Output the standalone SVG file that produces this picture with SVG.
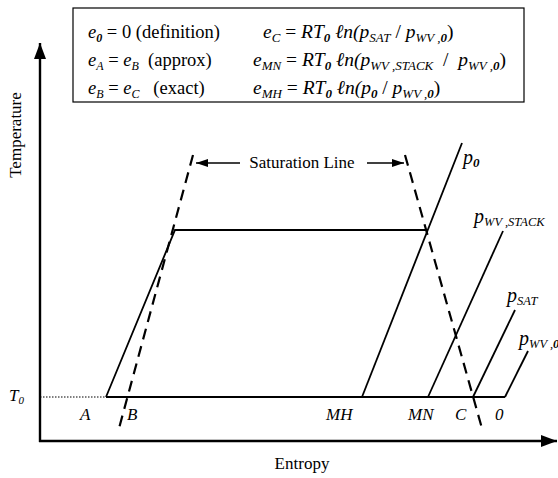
<svg xmlns="http://www.w3.org/2000/svg" width="558" height="478" viewBox="0 0 558 478">
<style>
text{font-family:"Liberation Serif","Times New Roman","DejaVu Serif",serif;fill:#000}
#legend text{white-space:pre}
.i{font-style:italic}
.b{font-weight:bold;font-style:italic}
.ln{stroke:#000;stroke-width:1.8;fill:none}
.ds{stroke:#000;stroke-width:2.2;stroke-dasharray:11,7;fill:none}
.ax{stroke:#000;stroke-width:2.4;fill:none}
</style>
<defs>
<marker id="ah" markerWidth="12" markerHeight="8" refX="12" refY="4" orient="auto" markerUnits="userSpaceOnUse"><path d="M0,0 L12,4 L0,8 Z" fill="#000"/></marker>
<marker id="axh" markerWidth="16" markerHeight="12" refX="16" refY="6" orient="auto" markerUnits="userSpaceOnUse"><path d="M0,0 L16,6 L0,12 Z" fill="#000"/></marker>
</defs>
<rect width="558" height="478" fill="#fff"/>

<g id="legend">
<rect x="73" y="8" width="451" height="94" fill="#fff" stroke="#000" stroke-width="1.2"/>
<text font-size="18.5" x="88" y="38"><tspan class="i">e</tspan><tspan class="b" font-size="12" dy="4">0</tspan><tspan dy="-4"> = 0 (definition)</tspan></text>
<text font-size="18.5" x="88" y="66"><tspan class="i">e</tspan><tspan class="i" font-size="12" dy="4">A</tspan><tspan dy="-4"> = </tspan><tspan class="i">e</tspan><tspan class="i" font-size="12" dy="4">B</tspan><tspan dy="-4">  (approx)</tspan></text>
<text font-size="18.5" x="88" y="94"><tspan class="i">e</tspan><tspan class="i" font-size="12" dy="4">B</tspan><tspan dy="-4"> = </tspan><tspan class="i">e</tspan><tspan class="i" font-size="12" dy="4">C</tspan><tspan dy="-4">   (exact)</tspan></text>
<text font-size="19.5" x="263" y="38"><tspan class="i">e</tspan><tspan class="i" font-size="13" dy="4">C</tspan><tspan dy="-4"> = </tspan><tspan class="i">RT</tspan><tspan class="b" font-size="13" dy="4">0</tspan><tspan class="i" dy="-4"> ℓn(p</tspan><tspan class="i" font-size="13" dy="4">SAT</tspan><tspan dy="-4"> / </tspan><tspan class="i">p</tspan><tspan class="i" font-size="13" dy="4">WV ,</tspan><tspan class="b" font-size="13">0</tspan><tspan dy="-4">)</tspan></text>
<text font-size="19.5" x="253" y="66"><tspan class="i">e</tspan><tspan class="i" font-size="13" dy="4">MN</tspan><tspan dy="-4"> = </tspan><tspan class="i">RT</tspan><tspan class="b" font-size="13" dy="4">0</tspan><tspan class="i" dy="-4"> ℓn(p</tspan><tspan class="i" font-size="13" dy="4">WV ,STACK</tspan><tspan dy="-4">  /  </tspan><tspan class="i">p</tspan><tspan class="i" font-size="13" dy="4">WV ,</tspan><tspan class="b" font-size="13">0</tspan><tspan dy="-4">)</tspan></text>
<text font-size="19.5" x="253" y="94"><tspan class="i">e</tspan><tspan class="i" font-size="13" dy="4">MH</tspan><tspan dy="-4"> = </tspan><tspan class="i">RT</tspan><tspan class="b" font-size="13" dy="4">0</tspan><tspan class="i" dy="-4"> ℓn(p</tspan><tspan class="b" font-size="13" dy="4">0</tspan><tspan dy="-4"> / </tspan><tspan class="i">p</tspan><tspan class="i" font-size="13" dy="4">WV ,</tspan><tspan class="b" font-size="13">0</tspan><tspan dy="-4">)</tspan></text>
</g>

<g id="axes">
<line class="ax" x1="40" y1="442" x2="40" y2="43" marker-end="url(#axh)"/>
<line class="ax" x1="39" y1="441" x2="557" y2="441" marker-end="url(#axh)"/>
<text font-size="17" transform="translate(21,135) rotate(-90)" text-anchor="middle">Temperature</text>
<text font-size="17" x="302" y="469" text-anchor="middle">Entropy</text>
</g>

<g id="connectors">
<line x1="40" y1="397" x2="106" y2="397" stroke="#000" stroke-width="1.2" stroke-dasharray="1.5,1.5"/>
<line class="ln" x1="106" y1="397" x2="505" y2="397"/>
<polyline class="ln" points="106,397 175,230 428,230"/>
<line class="ln" x1="362" y1="397" x2="462" y2="143"/>
<line class="ln" x1="428" y1="397" x2="503" y2="231"/>
<line class="ln" x1="473" y1="397" x2="515" y2="310"/>
<line class="ln" x1="505" y1="397" x2="528" y2="351"/>
<line class="ds" x1="193" y1="155" x2="118" y2="432"/>
<line class="ds" x1="405" y1="155" x2="483" y2="432"/>
<line stroke="#000" stroke-width="1.5" x1="240" y1="163" x2="196" y2="163" marker-end="url(#ah)"/>
<line stroke="#000" stroke-width="1.5" x1="367" y1="163" x2="404" y2="163" marker-end="url(#ah)"/>
</g>

<g id="labels">
<text font-size="17" x="302" y="168" text-anchor="middle">Saturation Line</text>
<text class="i" font-size="20" x="463" y="164">p<tspan class="b" font-size="13" dy="3">0</tspan></text>
<text class="i" font-size="20" x="474" y="223">p<tspan font-size="12.5" dy="3">WV ,STACK</tspan></text>
<text class="i" font-size="20" x="507" y="302">p<tspan font-size="12.5" dy="3">SAT</tspan></text>
<text class="i" font-size="20" x="519" y="345">p<tspan font-size="12.5" dy="3">WV ,</tspan><tspan class="b" font-size="12.5">0</tspan></text>
<text class="i" font-size="17" x="9" y="401">T<tspan font-size="11" dy="3">0</tspan></text>
<text class="i" font-size="17" x="80" y="420">A</text>
<text class="i" font-size="17" x="127" y="420">B</text>
<text class="i" font-size="17" x="326" y="420">MH</text>
<text class="i" font-size="17" x="408" y="420">MN</text>
<text class="i" font-size="17" x="455" y="420">C</text>
<text class="i" font-size="17" x="495" y="420">0</text>
</g>
</svg>
